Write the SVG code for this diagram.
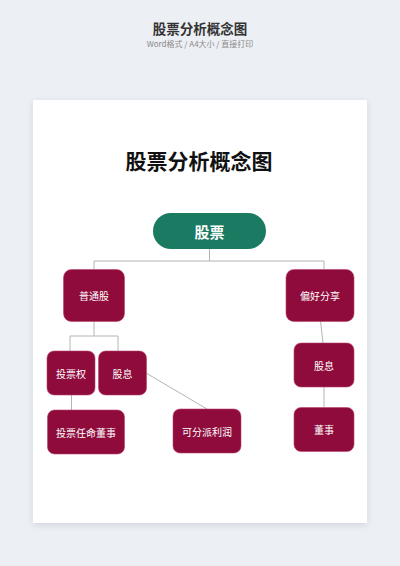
<svg xmlns="http://www.w3.org/2000/svg" width="400" height="566" viewBox="0 0 400 566">
<defs>
<filter id="sh" x="-10%" y="-10%" width="120%" height="120%">
<feDropShadow dx="0" dy="2" stdDeviation="3" flood-color="#9aa3b5" flood-opacity="0.35"/>
</filter>
<style>
.cjk{font-family:"Noto Sans CJK SC","Noto Sans",sans-serif}
.node rect{fill:#8e0b3c;stroke:#b8456f;stroke-width:0.6}
.node text{fill:#ffffff;font-size:10px;text-anchor:middle;dominant-baseline:central;font-family:"Noto Sans CJK SC","Noto Sans",sans-serif}
.conn{fill:none;stroke:#b4b4b4;stroke-width:1}
</style>
</defs>
<rect x="0" y="0" width="400" height="566" fill="#eceff4"/>
<text x="200" y="33.5" class="cjk" font-size="13.5" font-weight="bold" fill="#333333" text-anchor="middle">股票分析概念图</text>
<text x="200" y="47" class="cjk" font-size="8" fill="#8a8a8a" text-anchor="middle">Word格式 / A4大小 / 直接打印</text>
<rect x="33" y="100" width="334" height="423" fill="#ffffff" filter="url(#sh)"/>
<text x="199" y="169" class="cjk" font-size="21" font-weight="bold" fill="#111111" text-anchor="middle">股票分析概念图</text>
<g id="connectors">
<polyline class="conn" points="209.5,249 209.5,261"/>
<polyline class="conn" points="94,269 94,261 324,261 324,269"/>
<polyline class="conn" points="94,321 94,336"/>
<polyline class="conn" points="70,351 70,336 118,336 118,351"/>
<line class="conn" x1="71.5" y1="395" x2="71.5" y2="410"/>
<line class="conn" x1="146" y1="373" x2="207" y2="409"/>
<line class="conn" x1="320.5" y1="321" x2="323" y2="343"/>
<line class="conn" x1="324" y1="387" x2="324" y2="407"/>
</g>
<g id="root">
<rect x="153" y="213" width="113" height="36" rx="18" fill="#1b7a62"/>
<text x="209.5" y="231" class="cjk" font-size="15" font-weight="bold" fill="#ffffff" text-anchor="middle" dominant-baseline="central">股票</text>
</g>
<g id="n-common" class="node"><rect x="63.5" y="269.5" width="61" height="52" rx="8"/><text x="94" y="295.5">普通股</text></g>
<g id="n-pref" class="node"><rect x="286" y="269.5" width="68" height="52" rx="8"/><text x="320" y="295.5">偏好分享</text></g>
<g id="n-vote" class="node"><rect x="47" y="351" width="48" height="44" rx="7"/><text x="71" y="373">投票权</text></g>
<g id="n-div1" class="node"><rect x="98.5" y="351" width="48" height="44" rx="7"/><text x="122.5" y="373">股息</text></g>
<g id="n-elect" class="node"><rect x="47.5" y="410" width="77" height="44" rx="7"/><text x="86" y="432">投票任命董事</text></g>
<g id="n-profit" class="node"><rect x="173" y="409" width="68" height="44" rx="7"/><text x="207" y="431">可分派利润</text></g>
<g id="n-div2" class="node"><rect x="294" y="343" width="60" height="44" rx="7"/><text x="324" y="365">股息</text></g>
<g id="n-director" class="node"><rect x="294" y="407.5" width="60" height="44" rx="7"/><text x="324" y="429.5">董事</text></g>
</svg>
